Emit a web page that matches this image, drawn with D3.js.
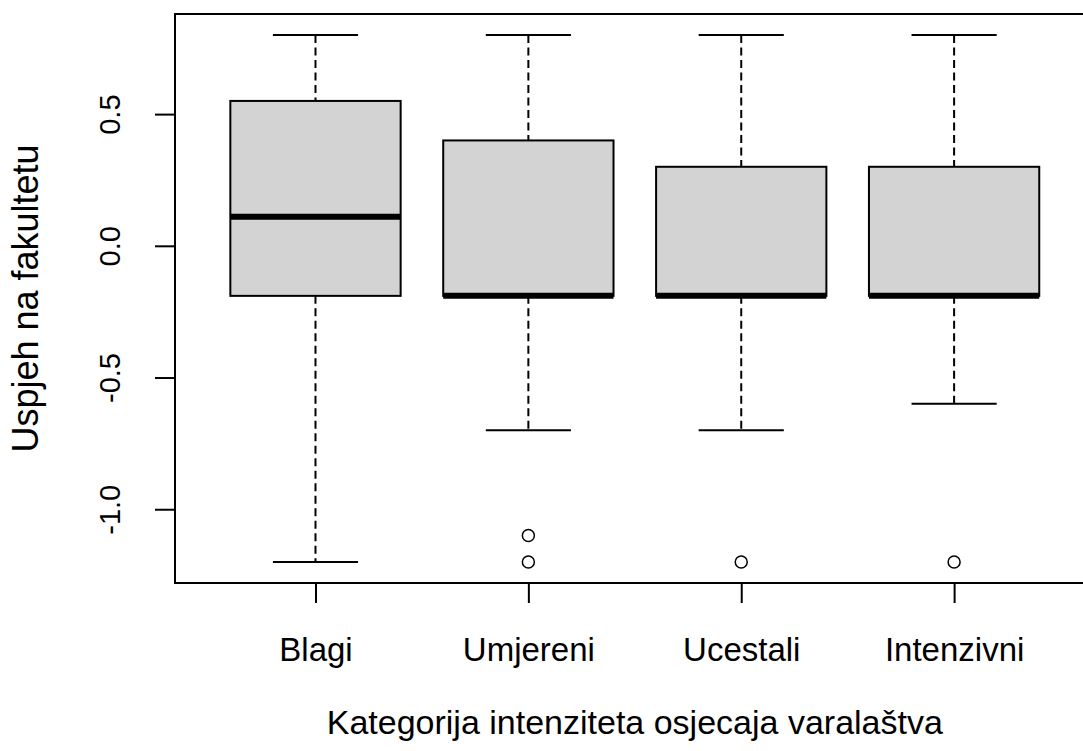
<!DOCTYPE html>
<html>
<head>
<meta charset="utf-8">
<script src="https://cdn.jsdelivr.net/npm/d3@7"></script>
<style>
  body { margin: 0; background: #fff; }
  svg { display: block; font-family: "Liberation Sans", Arial, sans-serif; }
</style>
</head>
<body>
<svg id="chart" width="1083" height="751"></svg>
<script>
// boxplot stats
const categories = ["Blagi", "Umjereni", "Ucestali", "Intenzivni"];
const whiskerLow = [-1.2, -0.7, -0.7, -0.6];
const q1 = [-0.19, -0.19, -0.19, -0.19];
const median = [0.11, -0.19, -0.19, -0.19];
const q3 = [0.55, 0.4, 0.3, 0.3];
const whiskerHigh = [0.8, 0.8, 0.8, 0.8];
const outliers = [[], [-1.1, -1.2], [-1.2], [-1.2]];
const yTicks = [-1.0, -0.5, 0.0, 0.5];

const xTitle = "Kategorija intenziteta osjecaja varalaštva";
const yTitle = "Uspjeh na fakultetu";

const svg = d3.select("#chart");
const tickFont = 33;

// R style: xlim 0.5..n+0.5, padded 4%
const x = d3.scaleLinear().domain([0.34, 4.66]).range([175, 1094.6]);
const y = d3.scaleLinear().domain([-1.28, 0.88]).range([583, 14]);

const boxW = x(1.8) - x(1);   // 0.8 wide
const capW = boxW / 2;

const data = categories.map((c, i) => ({
  name: c, pos: i + 1,
  lo: whiskerLow[i], q1: q1[i], med: median[i], q3: q3[i], hi: whiskerHigh[i],
  out: outliers[i]
}));

const g = svg.append("g");

const box = g.selectAll("g.box").data(data).enter()
  .append("g").attr("class", "box");

// whiskers (dashed)
box.append("line")
  .attr("x1", d => x(d.pos)).attr("x2", d => x(d.pos))
  .attr("y1", d => y(d.hi)).attr("y2", d => y(d.q3))
  .attr("stroke", "#000").attr("stroke-width", 2).attr("stroke-dasharray", "8,4.5");
box.append("line")
  .attr("x1", d => x(d.pos)).attr("x2", d => x(d.pos))
  .attr("y1", d => y(d.q1)).attr("y2", d => y(d.lo))
  .attr("stroke", "#000").attr("stroke-width", 2).attr("stroke-dasharray", "8,4.5");

// staples
box.append("line")
  .attr("x1", d => x(d.pos) - capW / 2).attr("x2", d => x(d.pos) + capW / 2)
  .attr("y1", d => y(d.hi)).attr("y2", d => y(d.hi))
  .attr("stroke", "#000").attr("stroke-width", 2);
box.append("line")
  .attr("x1", d => x(d.pos) - capW / 2).attr("x2", d => x(d.pos) + capW / 2)
  .attr("y1", d => y(d.lo)).attr("y2", d => y(d.lo))
  .attr("stroke", "#000").attr("stroke-width", 2);

// box
box.append("rect")
  .attr("x", d => x(d.pos) - boxW / 2)
  .attr("width", boxW)
  .attr("y", d => y(d.q3))
  .attr("height", d => y(d.q1) - y(d.q3))
  .attr("fill", "#d3d3d3")
  .attr("stroke", "#000").attr("stroke-width", 2);

// median
box.append("line")
  .attr("x1", d => x(d.pos) - boxW / 2).attr("x2", d => x(d.pos) + boxW / 2)
  .attr("y1", d => y(d.med)).attr("y2", d => y(d.med))
  .attr("stroke", "#000").attr("stroke-width", 6);

// outliers
box.selectAll("circle").data(d => d.out.map(v => ({ pos: d.pos, v }))).enter()
  .append("circle")
  .attr("cx", d => x(d.pos)).attr("cy", d => y(d.v))
  .attr("r", 6)
  .attr("fill", "none").attr("stroke", "#000").attr("stroke-width", 1.5);

// frame
g.append("rect")
  .attr("x", x.range()[0]).attr("y", y.range()[1])
  .attr("width", x.range()[1] - x.range()[0])
  .attr("height", y.range()[0] - y.range()[1])
  .attr("fill", "none").attr("stroke", "#000").attr("stroke-width", 2);

// x axis
const xAxis = g.append("g")
  .attr("transform", `translate(0,${y.range()[0]})`)
  .call(d3.axisBottom(x).tickValues([1, 2, 3, 4]).tickFormat(d => categories[d - 1]).tickSize(20));
xAxis.select(".domain").remove();
xAxis.selectAll(".tick line").attr("stroke", "#000").attr("stroke-width", 2);
xAxis.selectAll(".tick text")
  .attr("y", 78).attr("dy", null)
  .attr("fill", "#000").style("font-size", tickFont + "px")
  .style("font-family", "Liberation Sans, Arial, sans-serif");

// y axis
const yAxis = g.append("g")
  .attr("transform", `translate(${x.range()[0]},0)`)
  .call(d3.axisLeft(y).tickValues(yTicks).tickSize(20));
yAxis.select(".domain").remove();
yAxis.selectAll(".tick line").attr("stroke", "#000").attr("stroke-width", 2);
yAxis.selectAll(".tick text")
  .attr("x", null).attr("dy", null)
  .attr("text-anchor", "middle")
  .attr("transform", "translate(-55,0) rotate(-90)")
  .attr("fill", "#000").style("font-size", "29px")
  .style("font-family", "Liberation Sans, Arial, sans-serif")
  .text(d => d3.format(".1f")(d).replace("−", "-"));

// axis titles
svg.append("text")
  .attr("x", (x.range()[0] + x.range()[1]) / 2)
  .attr("y", 734)
  .attr("text-anchor", "middle")
  .style("font-size", "34px")
  .text(xTitle);

svg.append("text")
  .attr("transform", `translate(38,${(y.range()[0] + y.range()[1]) / 2}) rotate(-90)`)
  .attr("text-anchor", "middle")
  .style("font-size", "36px")
  .text(yTitle);
</script>
</body>
</html>
